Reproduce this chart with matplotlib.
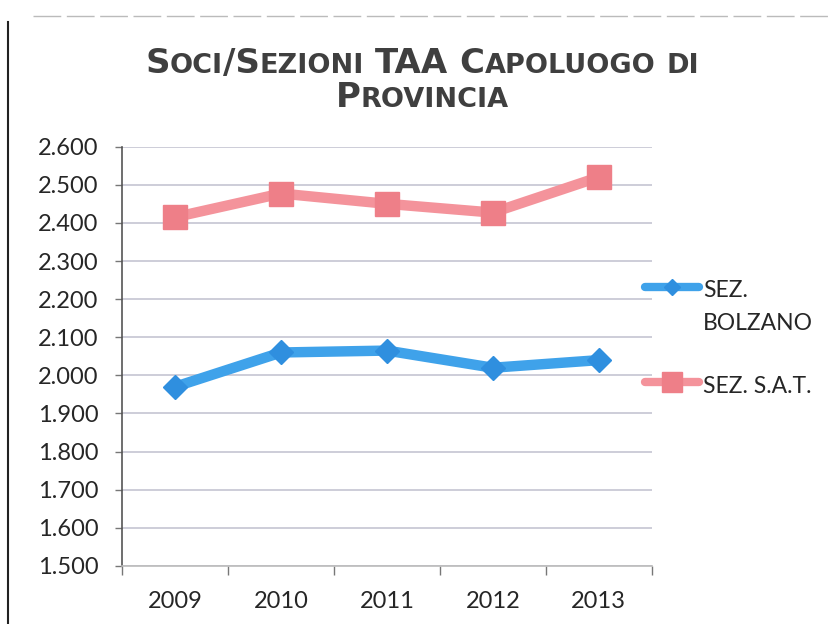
import numpy as np
import matplotlib
matplotlib.use("Agg")
import matplotlib.pyplot as plt
from matplotlib.lines import Line2D
from matplotlib.transforms import IdentityTransform
from matplotlib.ticker import FuncFormatter, FixedLocator

# data
years = ["2009", "2010", "2011", "2012", "2013"]
bolzano = [1970, 2060, 2065, 2020, 2040]
sat = [2415, 2477, 2450, 2427, 2520]
legend_rows = [["SEZ.", "BOLZANO"], ["SEZ. S.A.T."]]
title_lines = ["Soci/Sezioni TAA Capoluogo di", "Provincia"]

blue_line = "#3fa2ea"
blue_mark = "#2f8fdf"
pink_line = "#f4939b"
pink_mark = "#ee7f88"
txt = "#262626"

DPI = 100
fig = plt.figure(figsize=(8.33, 6.24), dpi=DPI)
ax = fig.add_axes([0.1465, 0.093, 0.636, 0.672])

x = np.arange(len(years))
ax.plot(x, bolzano, color=blue_line, lw=7.5, marker="D", ms=12,
        mfc=blue_mark, mec=blue_mark, solid_capstyle="round", zorder=3)
ax.plot(x, sat, color=pink_line, lw=7.5, marker="s", ms=17,
        mfc=pink_mark, mec=pink_mark, solid_capstyle="round", zorder=3)

ax.set_xlim(-0.5, len(years) - 0.5)
ax.set_ylim(1500, 2600)
ax.set_yticks(np.arange(1500, 2601, 100))
ax.yaxis.set_major_formatter(FuncFormatter(lambda v, p: f"{int(v):,}".replace(",", ".")))
ax.set_xticks(x)
ax.set_xticklabels(years)
ax.xaxis.set_minor_locator(FixedLocator(np.arange(-0.5, len(years), 1.0)))
ax.tick_params(axis="x", which="major", length=0, pad=18, labelsize=17, labelcolor=txt)
ax.tick_params(axis="x", which="minor", length=6.5, width=1, color="#777777", direction="out")
ax.tick_params(axis="y", length=5, width=1, color="#777777", pad=12, labelsize=17, labelcolor=txt)
for lab in ax.get_xticklabels() + ax.get_yticklabels():
    lab.set_family(["Lato", "DejaVu Sans"])

ax.grid(axis="y", color="#c9c9d6", lw=1.3, zorder=0)
ax.set_axisbelow(True)
for s in ["top", "right"]:
    ax.spines[s].set_visible(False)
ax.spines["left"].set_color("#555555")
ax.spines["left"].set_linewidth(1.2)
ax.spines["bottom"].set_color("#bbbbbb")
ax.spines["bottom"].set_linewidth(1.2)

# legend drawn by hand so the blue key sits on the first text line
H = 624
keys = [
    dict(color=blue_line, marker="D", ms=8, mc=blue_mark, y=287),
    dict(color=pink_line, marker="s", ms=14, mc=pink_mark, y=382),
]
baselines = [[297, 330], [393]]
for k, rows, bls in zip(keys, legend_rows, baselines):
    fig.add_artist(Line2D([645, 699], [H - k["y"]] * 2, transform=IdentityTransform(),
                          color=k["color"], lw=6, solid_capstyle="round"))
    fig.add_artist(Line2D([672], [H - k["y"]], transform=IdentityTransform(),
                          marker=k["marker"], ms=k["ms"], mfc=k["mc"], mec=k["mc"], lw=0))
    for row, bl in zip(rows, bls):
        fig.text(703, H - bl, row, transform=IdentityTransform(), fontsize=16.5,
                 family=["Lato", "DejaVu Sans"], color=txt, va="baseline", ha="left")

# title in small caps, built run by run
renderer = fig.canvas.get_renderer()
big, small = 24.5, 19.5
title_base = [H - 73, H - 107]
for line, ypix in zip(title_lines, title_base):
    runs = []
    for ch in line:
        kind = "big" if ch.isupper() or ch == "/" else ("small" if ch.islower() else "sp")
        if runs and (runs[-1][0] == kind):
            runs[-1][1] += ch
        else:
            runs.append([kind, ch])
    pieces = []
    total = 0
    for kind, s in runs:
        if kind == "sp":
            w = 11 * len(s)
            pieces.append((None, w))
        else:
            t = fig.text(0, 0, s.upper(), fontsize=big if kind == "big" else small,
                         fontweight="bold", color="#3f3f3f", family="DejaVu Sans",
                         transform=IdentityTransform(), va="baseline", ha="left")
            w = t.get_window_extent(renderer).width
            pieces.append((t, w))
        total += w
    xpix = 422 - total / 2
    for t, w in pieces:
        if t is not None:
            t.set_position((xpix, ypix))
        xpix += w

# frame remnants of the scanned chart box
fig.add_artist(Line2D([0.010, 0.010], [0.0, 0.965], color="#222222", lw=1.5))
fig.add_artist(Line2D([0.04, 1.0], [0.975, 0.975], color="#bbbbbb", lw=1.0, ls=(0, (20, 4))))

fig.savefig("out.png", dpi=DPI)
